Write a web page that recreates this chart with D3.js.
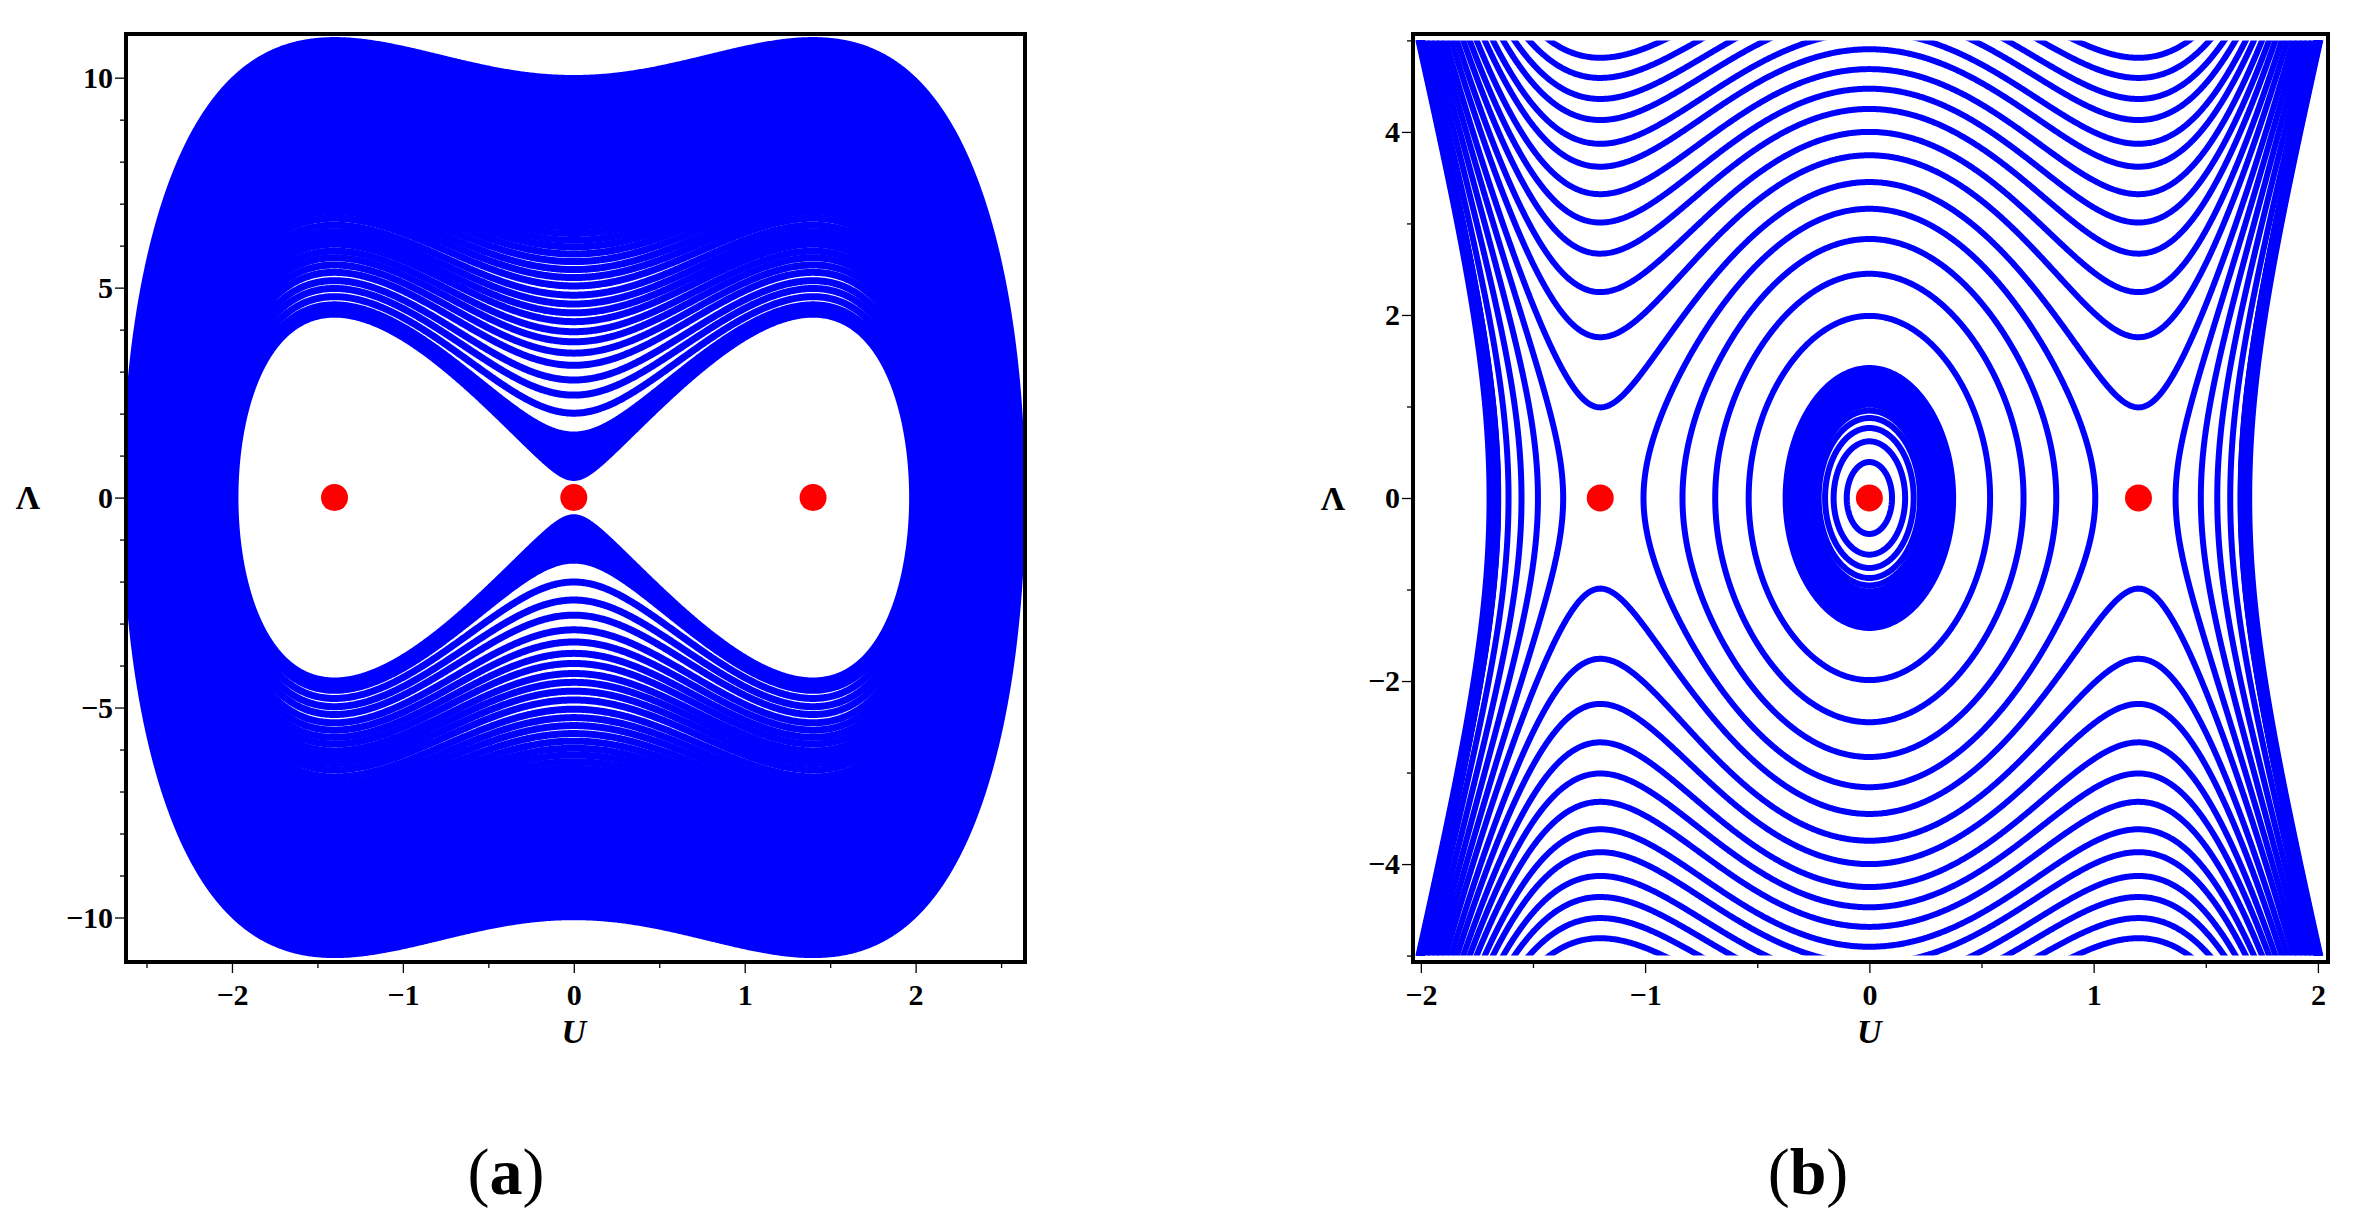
<!DOCTYPE html>
<html>
<head>
<meta charset="utf-8">
<script src="https://cdn.jsdelivr.net/npm/d3@7"></script>
<style>
  body { margin: 0; background: #fff; }
</style>
</head>
<body>
<svg id="fig" width="2364" height="1230"></svg>
<script>
// ---- values ----
// (a): level curves of H = Λ²/2 + c2·U² + c4·U⁴
const aTicksU = [-2, -1, 0, 1, 2];
const aMinorU = [-2.5, -1.5, -0.5, 0.5, 1.5, 2.5];
const aTicksL = [-10, -5, 0, 5, 10];
const aMinorL = [-9, -8, -7, -6, -4, -3, -2, -1, 1, 2, 3, 4, 6, 7, 8, 9];
const aEquilibria = [-1.4, 0, 1.4];
const aPot = [-9.62, 2.455];
const aInnerBand = [0.48, 1.49];          // Λ at U=0, solid band next to the saddle
const aLineTops = [2.01, 2.44, 2.80, 3.15, 3.44, 3.71, 3.95, 4.19, 4.40, 4.61,
                   4.82, 5.04, 5.24, 5.43, 5.62, 5.80, 5.97, 6.13, 6.29, 6.45]; // Λ at U=0
const aOuterBand = [6.45, 9.98];          // Λ at U=0, solid outer band

// (b): level curves of H = Λ²/2 + c2·U² + c4·U⁴
const bTicksU = [-2, -1, 0, 1, 2];
const bMinorU = [-1.5, -0.5, 0.5, 1.5];
const bTicksL = [-4, -2, 0, 2, 4];
const bMinorL = [-5, -3, -1, 1, 3, 5];
const bEquilibria = [-1.2, 0, 1.2];
const bPot = [7.6, -2.64];
const bRingTops = [0.393, 0.619, 0.765, 0.874, 0.955, 1.020, 1.071, 1.118, 1.158, 1.195,
                   1.231, 1.264, 1.293, 1.318, 1.344, 1.366, 1.388, 1.406, 1.42]; // Λ at U=0
const bOrbitTops = [1.99, 2.45, 2.83, 3.16];                                   // Λ at U=0
const bValleys = [0.99, 1.757, 2.25, 2.67, 3.01, 3.32, 3.62, 3.87, 4.13, 4.36, 4.59, 4.81]; // Λ at U=±1.2
const bSaddleU = 1.2;
const bLamMax = 5;

const svg = d3.select('#fig');
const BLUE = '#0000ff', RED = '#ff0000';
const SERIF = '"Liberation Serif", "Times New Roman", serif';

function drawPanel(p) {
  const x = d3.scaleLinear().domain(p.uDom).range([p.left, p.right]);
  const y = d3.scaleLinear().domain(p.lDom).range([p.bottom, p.top]);
  const g = svg.append('g');

  // sample H on a grid a bit larger than the view
  const nx = 720, ny = 720;
  const uE = p.gridU, lE = p.gridL;
  const du = (uE[1] - uE[0]) / (nx - 1), dl = (lE[1] - lE[0]) / (ny - 1);
  const vals = new Float64Array(nx * ny);
  for (let j = 0; j < ny; j++) {
    const l = lE[1] - j * dl;
    for (let i = 0; i < nx; i++) {
      vals[j * nx + i] = p.H(uE[0] + i * du, l);
    }
  }
  const proj = d3.geoTransform({
    point(gx, gy) {
      this.stream.point(x(uE[0] + (gx - 0.5) * du), y(lE[1] - (gy - 0.5) * dl));
    }
  });
  const path = d3.geoPath(proj);
  const gen = d3.contours().size([nx, ny]);
  const iso = h => path(gen.contour(vals, h));

  const clipId = 'clip' + p.name;
  svg.append('clipPath').attr('id', clipId)
    .append('rect')
    .attr('x', p.left).attr('y', y(p.clipL[1]))
    .attr('width', p.right - p.left).attr('height', y(p.clipL[0]) - y(p.clipL[1]));
  const plot = g.append('g').attr('clip-path', `url(#${clipId})`);

  // solid bands between two levels
  plot.selectAll('.band')
    .data(p.bands)
    .join('path')
    .attr('class', 'band')
    .attr('d', d => iso(d[0]) + iso(d[1]))
    .attr('fill', BLUE)
    .attr('fill-rule', 'evenodd');

  plot.selectAll('.lvl')
    .data(p.levels)
    .join('path')
    .attr('class', 'lvl')
    .attr('d', d => iso(d))
    .attr('fill', 'none')
    .attr('stroke', BLUE)
    .attr('stroke-width', p.lw)
    .attr('stroke-linejoin', 'round');

  g.selectAll('.eq')
    .data(p.eq)
    .join('circle')
    .attr('class', 'eq')
    .attr('cx', d => x(d)).attr('cy', y(0))
    .attr('r', 13.5)
    .attr('fill', RED);

  // frame
  g.append('rect')
    .attr('x', p.left).attr('y', p.top)
    .attr('width', p.right - p.left).attr('height', p.bottom - p.top)
    .attr('fill', 'none').attr('stroke', '#000').attr('stroke-width', 4);

  const fmt = d3.format('d');
  const styleAxis = a => {
    a.select('.domain').remove();
    a.attr('font-family', SERIF).attr('font-size', 30).attr('font-weight', 'bold');
    a.selectAll('line').attr('stroke-width', 1.3);
  };
  g.append('g').attr('transform', `translate(0,${p.bottom + 2})`)
    .call(d3.axisBottom(x).tickValues(p.ticksU).tickFormat(fmt).tickSize(9).tickPadding(11))
    .call(styleAxis);
  g.append('g').attr('transform', `translate(0,${p.bottom + 2})`)
    .call(d3.axisBottom(x).tickValues(p.minorU).tickFormat('').tickSize(4))
    .call(styleAxis);
  g.append('g').attr('transform', `translate(${p.left - 2},0)`)
    .call(d3.axisLeft(y).tickValues(p.ticksL).tickFormat(fmt).tickSize(9).tickPadding(2))
    .call(styleAxis);
  g.append('g').attr('transform', `translate(${p.left - 2},0)`)
    .call(d3.axisLeft(y).tickValues(p.minorL).tickFormat('').tickSize(4))
    .call(styleAxis);

  g.append('text')
    .attr('x', x(0)).attr('y', 1043)
    .attr('text-anchor', 'middle')
    .attr('font-family', SERIF).attr('font-style', 'italic').attr('font-weight', 'bold')
    .attr('font-size', 34)
    .text('U');
  g.append('text')
    .attr('x', p.lamX).attr('y', y(0)).attr('dy', '0.35em')
    .attr('text-anchor', 'middle')
    .attr('font-family', SERIF).attr('font-weight', 'bold')
    .attr('font-size', 34)
    .text('Λ');

  const cap = g.append('text')
    .attr('x', p.capX).attr('y', 1194)
    .attr('text-anchor', 'middle')
    .attr('font-family', SERIF)
    .attr('font-size', 66);
  cap.append('tspan').text('(');
  cap.append('tspan').attr('font-weight', 'bold').text(p.name);
  cap.append('tspan').text(')');
}

// ---- panel (a) ----
const Va = u => aPot[0] * u * u + aPot[1] * u ** 4;
const hTop = lam => lam * lam / 2;        // level through (0, Λ); V(0) = 0
drawPanel({
  name: 'a',
  left: 126, right: 1025, top: 34, bottom: 962,
  uDom: [-2.62, 2.64], lDom: [-11.06, 11.04],
  gridU: [-2.85, 2.85], gridL: [-11.6, 11.6],
  clipL: [-11.06, 11.04],
  H: (u, l) => l * l / 2 + Va(u),
  bands: [aInnerBand.map(hTop), aOuterBand.map(hTop)],
  levels: [...aInnerBand, ...aLineTops, ...aOuterBand].map(hTop),
  lw: 7,
  eq: aEquilibria,
  ticksU: aTicksU, minorU: aMinorU, ticksL: aTicksL, minorL: aMinorL,
  lamX: 28, capX: 506
});

// ---- panel (b) ----
const Vb = u => bPot[0] * u * u + bPot[1] * u ** 4;
drawPanel({
  name: 'b',
  left: 1413, right: 2328, top: 34, bottom: 962,
  uDom: [-2.035, 2.045], lDom: [-5.07, 5.07],
  gridU: [-2.25, 2.25], gridL: [-5.5, 5.5],
  clipL: [-bLamMax, bLamMax],
  H: (u, l) => l * l / 2 + Vb(u),
  bands: [],
  levels: [...bRingTops.map(hTop), ...bOrbitTops.map(hTop),
           ...bValleys.map(v => v * v / 2 + Vb(bSaddleU))],
  lw: 6,
  eq: bEquilibria,
  ticksU: bTicksU, minorU: bMinorU, ticksL: bTicksL, minorL: bMinorL,
  lamX: 1333, capX: 1808
});
</script>
</body>
</html>
